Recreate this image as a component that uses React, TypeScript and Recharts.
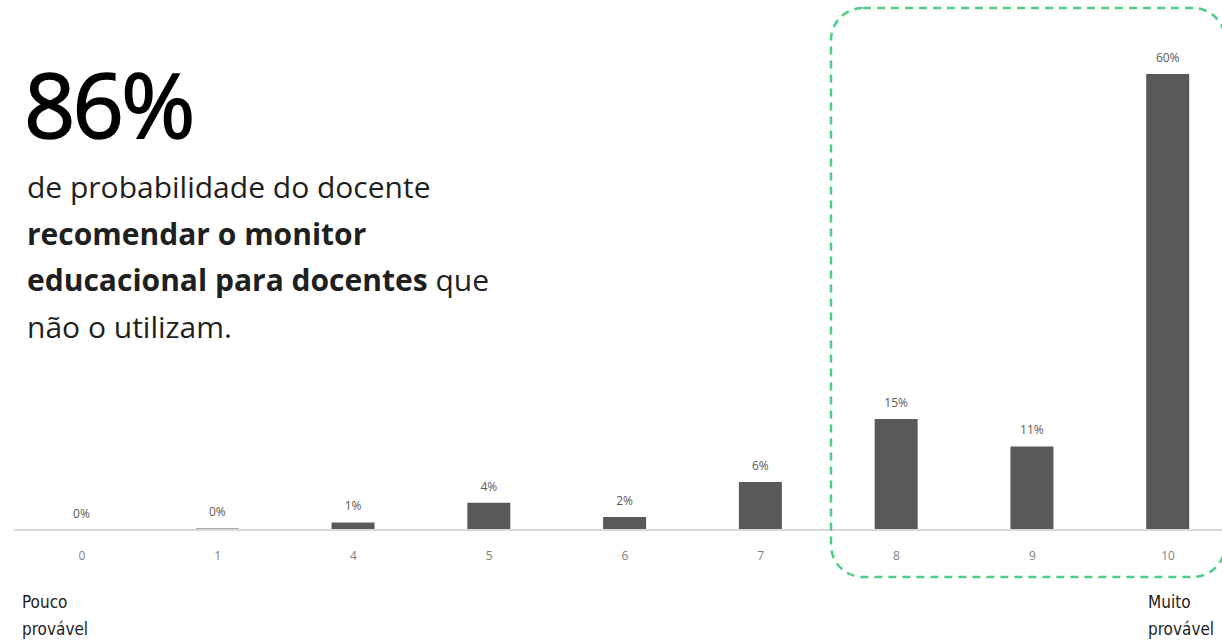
import { BarChart, Bar, XAxis, YAxis, LabelList } from "recharts";

const categories = ["0", "1", "4", "5", "6", "7", "8", "9", "10"];
const shares = [0.05, 0.2, 1.0, 3.6, 1.7, 6.3, 14.6, 11.0, 60];
const shareLabels = ["0%", "0%", "1%", "4%", "2%", "6%", "15%", "11%", "60%"];

const data = categories.map((c, i) => ({ score: c, share: shares[i], label: shareLabels[i] }));

const sans = "'Open Sans', 'Noto Sans', sans-serif";
const narrow = "'Liberation Sans Narrow', 'DejaVu Sans Condensed', sans-serif";

export default function App() {
  return (
    <div style={{ position: "absolute", left: 0, top: 0, width: 1222, height: 643, overflow: "hidden", background: "#fff", fontFamily: sans }}>
      <BarChart width={1240} height={643} data={data} margin={{ top: 74, right: 4, left: 14, bottom: 83 }} barSize={43}>
        <XAxis dataKey="score" axisLine={{ stroke: "#d9d9d9", strokeWidth: 2 }} tickLine={false} tickSize={0} tickMargin={21}
          tick={{ fontSize: 12, fill: "#7f7f7f", fontFamily: sans }} height={30} interval={0} />
        <YAxis hide domain={[0, 60]} />
        <Bar dataKey="share" fill="#595959" isAnimationActive={false}>
          <LabelList dataKey="label" position="top" offset={12} style={{ fontSize: 12, fill: "#595959", fontFamily: sans }} />
        </Bar>
      </BarChart>

      <svg width={1222} height={643} style={{ position: "absolute", left: 0, top: 0, pointerEvents: "none" }}>
        <rect x={831} y={8} width={394} height={569} rx={32} fill="none" stroke="#4cce86" strokeWidth={2.5} strokeDasharray="8 6" />
      </svg>

      <div style={{ position: "absolute", left: 24, top: 48, fontSize: 90, lineHeight: "110px", color: "#000", letterSpacing: -3, WebkitTextStroke: "1.5px #000" }}>86%</div>
      <div style={{ position: "absolute", left: 27, top: 164, width: 620, fontSize: 30, lineHeight: "46.5px", color: "#1f1f1f" }}>
        de probabilidade do docente<br />
        <b>recomendar o monitor</b><br />
        <b>educacional para docentes</b> que<br />
        não o utilizam.
      </div>

      <div style={{ position: "absolute", left: 22, top: 589, fontFamily: narrow, fontSize: 17, fontWeight: 500, lineHeight: "27px", color: "#222" }}>
        Pouco<br />provável
      </div>
      <div style={{ position: "absolute", left: 1148, top: 589, fontFamily: narrow, fontSize: 17, fontWeight: 500, lineHeight: "27px", color: "#222" }}>
        Muito<br />provável
      </div>
    </div>
  );
}
